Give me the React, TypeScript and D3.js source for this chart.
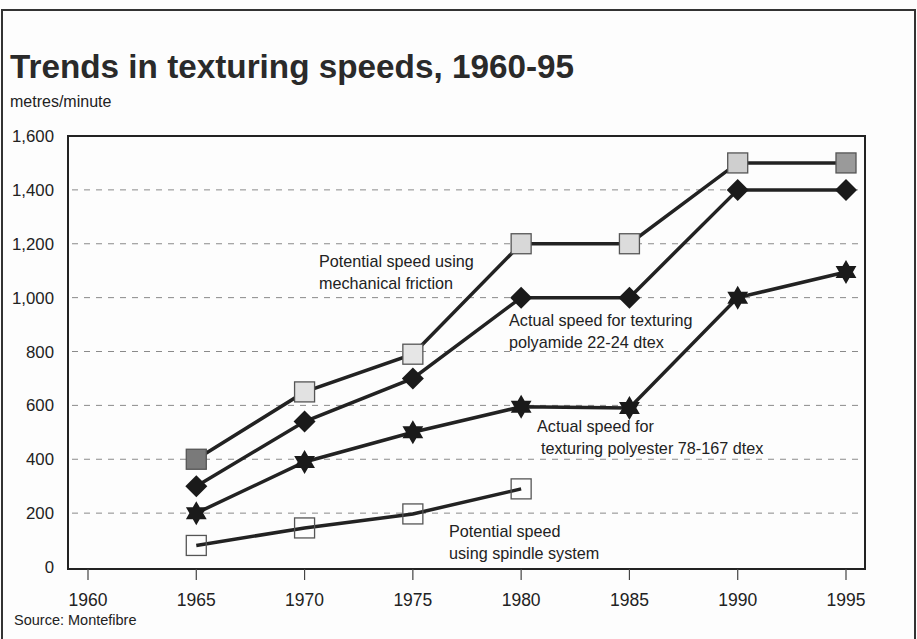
import React from "react";
import * as d3 from "d3";

const years = [1965, 1970, 1975, 1980, 1985, 1990, 1995];
const mechanicalFriction = [400, 650, 790, 1200, 1200, 1500, 1500];
const polyamide = [300, 540, 700, 1000, 1000, 1400, 1400];
const polyester = [200, 390, 500, 595, 590, 1000, 1095];
const spindleYears = [1965, 1970, 1975, 1980];
const spindle = [80, 145, 197, 290];
const xTicks = [1960, 1965, 1970, 1975, 1980, 1985, 1990, 1995];
const yTicks = [0, 200, 400, 600, 800, 1000, 1200, 1400, 1600];
const gridValues = [200, 400, 600, 800, 1000, 1200, 1400];
const squareFills = ["#7a7a7a", "#e2e2e2", "#e6e6e6", "#d8d8d8", "#dcdcdc", "#cfcfcf", "#9a9a9a"];

const W = 917;
const H = 639;
const FONT = "'Liberation Sans', Arial, sans-serif";

export default function App() {
  const x = d3.scaleLinear().domain([1960, 1995]).range([88, 846]);
  const y = d3.scaleLinear().domain([0, 1600]).range([567, 136]);
  const line = d3
    .line<[number, number]>()
    .x((d) => x(d[0]))
    .y((d) => y(d[1]));
  const boxL = 68,
    boxR = 865,
    boxT = y(1600),
    boxB = 569;

  const six = (cx: number, cy: number, r: number) => {
    const pts = (off: number) =>
      d3.range(3).map((i) => {
        const a = off + (i * 2 * Math.PI) / 3;
        return [cx + r * Math.sin(a), cy - r * Math.cos(a)];
      });
    const t1 = pts(0);
    const t2 = pts(Math.PI);
    return `M${t1.map((p) => p.join(",")).join("L")}Z M${t2.map((p) => p.join(",")).join("L")}Z`;
  };

  const zip = (xs: number[], ys: number[]) => xs.map((v, i) => [v, ys[i]] as [number, number]);

  return (
    <svg width={W} height={H} style={{ display: "block", position: "absolute", left: 0, top: 0 }} fontFamily={FONT}>
      <rect x={0} y={0} width={W} height={H} fill="#fdfdfd" />
      {/* outer frame */}
      <path d={`M2,${H} L2,10 L915,10 L915,${H}`} fill="none" stroke="#333" strokeWidth={2} />
      <text x={10} y={78} fontSize={33} fontWeight="bold" fill="#2a2a2a" textLength={564} lengthAdjust="spacingAndGlyphs">
        Trends in texturing speeds, 1960-95
      </text>
      <text x={10} y={107} fontSize={16} fill="#222">
        metres/minute
      </text>

      {/* grid */}
      {gridValues.map((v) => (
        <line key={v} x1={boxL + 4} x2={boxR} y1={y(v)} y2={y(v)} stroke="#8a8a8a" strokeWidth={1} strokeDasharray="6,6" />
      ))}

      {/* plot box */}
      <rect x={boxL} y={boxT} width={boxR - boxL} height={boxB - boxT} fill="none" stroke="#222" strokeWidth={2} />

      {/* y labels */}
      {yTicks.map((v) => (
        <text key={v} x={54} y={y(v) + 6} fontSize={16.8} textAnchor="end" fill="#222">
          {d3.format(",")(v)}
        </text>
      ))}
      {/* x ticks */}
      {xTicks.map((t) => (
        <g key={t}>
          <line x1={x(t)} x2={x(t)} y1={boxB} y2={boxB + 11} stroke="#444" strokeWidth={1.2} />
          <text x={x(t)} y={606} fontSize={17.5} textAnchor="middle" fill="#222">
            {t}
          </text>
        </g>
      ))}

      {/* lines */}
      <path d={line(zip(years, mechanicalFriction)) || ""} fill="none" stroke="#222" strokeWidth={3.5} />
      <path d={line(zip(years, polyamide)) || ""} fill="none" stroke="#222" strokeWidth={3.5} />
      <path d={line(zip(years, polyester)) || ""} fill="none" stroke="#222" strokeWidth={3.5} />
      <path d={line(zip(spindleYears, spindle)) || ""} fill="none" stroke="#222" strokeWidth={3.5} />

      {/* spindle markers: open squares */}
      {spindleYears.map((yr, i) => (
        <rect key={yr} x={x(yr) - 10} y={y(spindle[i]) - 10} width={20} height={20} fill="none" stroke="#555" strokeWidth={1.3} />
      ))}
      {/* mechanical friction markers */}
      {years.map((yr, i) => (
        <rect key={yr} x={x(yr) - 10} y={y(mechanicalFriction[i]) - 10} width={20} height={20} fill={squareFills[i]} stroke="#555" strokeWidth={1.3} />
      ))}
      {/* polyamide diamonds */}
      {years.map((yr, i) => {
        const cx = x(yr),
          cy = y(polyamide[i]),
          r = 11;
        return <path key={yr} d={`M${cx},${cy - r}L${cx + r},${cy}L${cx},${cy + r}L${cx - r},${cy}Z`} fill="#1a1a1a" />;
      })}
      {/* polyester stars */}
      {years.map((yr, i) => (
        <path key={yr} d={six(x(yr), y(polyester[i]), 12)} fill="#1a1a1a" />
      ))}

      {/* annotations */}
      <g fontSize={16.2} fill="#222">
        <text x={319} y={267}>Potential speed using</text>
        <text x={319} y={289}>mechanical friction</text>
        <text x={509} y={326}>Actual speed for texturing</text>
        <text x={509} y={348}>polyamide 22-24 dtex</text>
        <text x={537} y={432}>Actual speed for</text>
        <text x={541} y={454}>texturing polyester 78-167 dtex</text>
        <text x={449} y={537}>Potential speed</text>
        <text x={449} y={559}>using spindle system</text>
      </g>

      <text x={14} y={625} fontSize={14.5} fill="#222">
        Source: Montefibre
      </text>
    </svg>
  );
}
